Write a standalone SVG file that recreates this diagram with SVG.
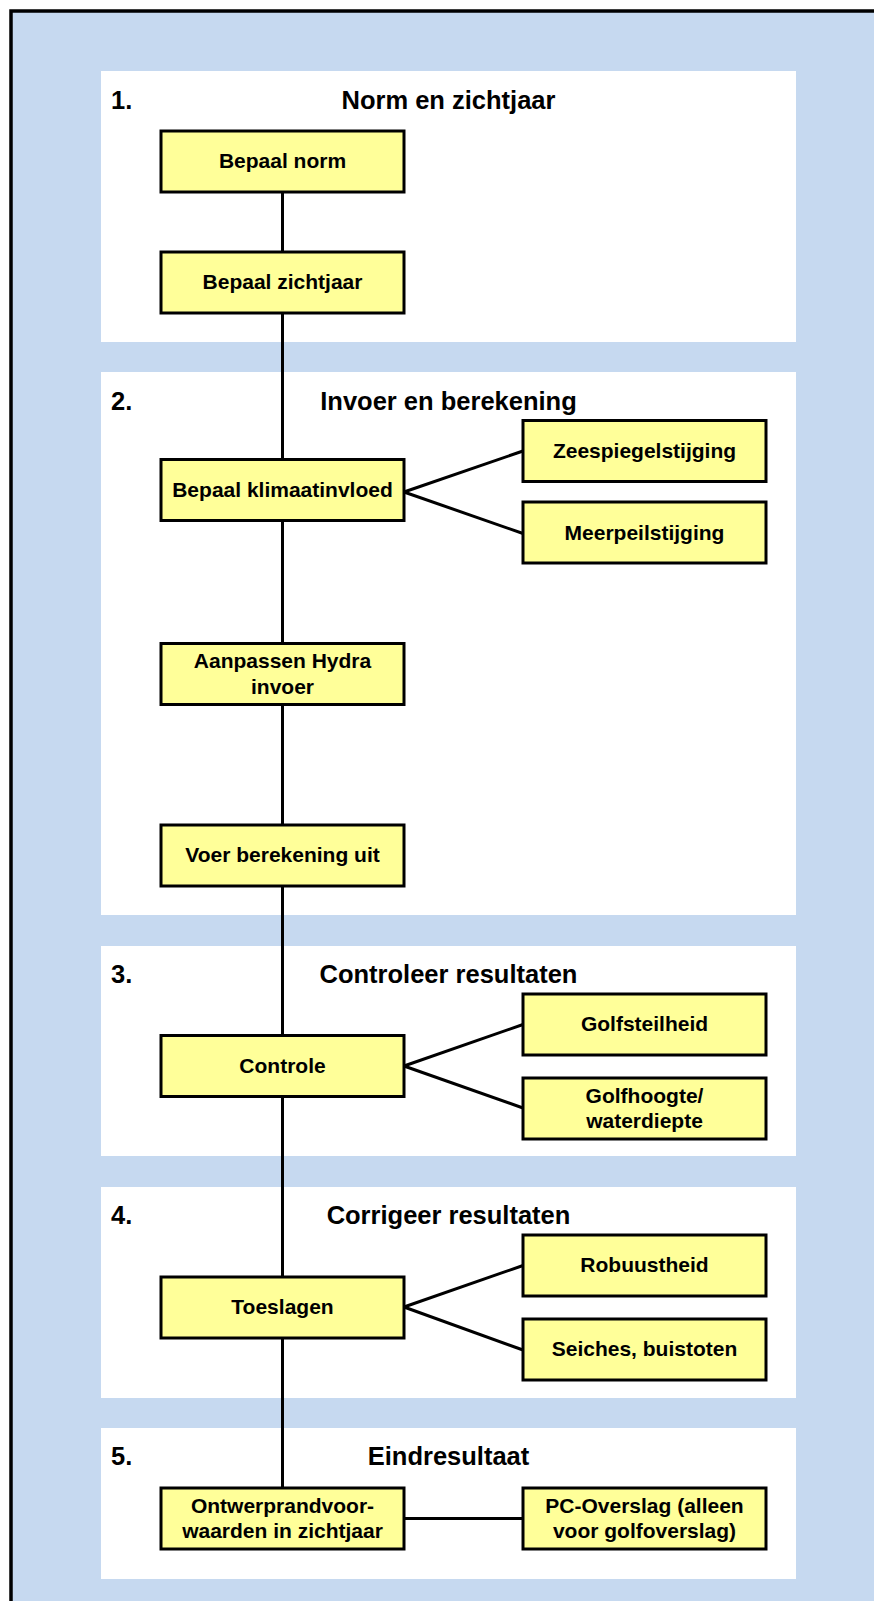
<svg xmlns="http://www.w3.org/2000/svg" width="874" height="1601" viewBox="0 0 874 1601">
<style>
.panel{fill:#ffffff}
.box{fill:#ffff99;stroke:#000000;stroke-width:3}
.t{font-family:"Liberation Sans",Arial,sans-serif;font-weight:bold;font-size:21px;fill:#000000;text-anchor:middle}
.h{font-family:"Liberation Sans",Arial,sans-serif;font-weight:bold;font-size:25.5px;fill:#000000;text-anchor:middle}
.n{font-family:"Liberation Sans",Arial,sans-serif;font-weight:bold;font-size:25.5px;fill:#000000}
.c{stroke:#000000;stroke-width:3;fill:none}
</style>
<rect x="0" y="0" width="874" height="1601" fill="#ffffff"/>
<rect x="11" y="11" width="863" height="1590" fill="#c6d9f0"/>
<path d="M11 1601 V11 H874" fill="none" stroke="#000000" stroke-width="3.5"/>
<g id="panels">
<rect class="panel" x="101" y="71" width="695" height="271"/>
<rect class="panel" x="101" y="372" width="695" height="543"/>
<rect class="panel" x="101" y="946" width="695" height="210"/>
<rect class="panel" x="101" y="1187" width="695" height="211"/>
<rect class="panel" x="101" y="1428" width="695" height="151"/>
</g>
<g id="headers">
<text class="n" x="111" y="109">1.</text>
<text class="h" x="448.5" y="108.5">Norm en zichtjaar</text>
<text class="n" x="111" y="410">2.</text>
<text class="h" x="448.5" y="410">Invoer en berekening</text>
<text class="n" x="111" y="983">3.</text>
<text class="h" x="448.5" y="983">Controleer resultaten</text>
<text class="n" x="111" y="1224">4.</text>
<text class="h" x="448.5" y="1224">Corrigeer resultaten</text>
<text class="n" x="111" y="1465">5.</text>
<text class="h" x="448.5" y="1465">Eindresultaat</text>
</g>
<g id="connectors">
<line class="c" x1="282.5" y1="192" x2="282.5" y2="252"/>
<line class="c" x1="282.5" y1="313" x2="282.5" y2="459.5"/>
<line class="c" x1="282.5" y1="520.5" x2="282.5" y2="643.5"/>
<line class="c" x1="282.5" y1="704.5" x2="282.5" y2="825"/>
<line class="c" x1="282.5" y1="886" x2="282.5" y2="1035.5"/>
<line class="c" x1="282.5" y1="1096.5" x2="282.5" y2="1277"/>
<line class="c" x1="282.5" y1="1338" x2="282.5" y2="1488"/>
<line class="c" x1="404" y1="492" x2="523" y2="451"/>
<line class="c" x1="404" y1="492" x2="523" y2="533.5"/>
<line class="c" x1="404" y1="1066" x2="523" y2="1024.5"/>
<line class="c" x1="404" y1="1066" x2="523" y2="1108"/>
<line class="c" x1="404" y1="1307" x2="523" y2="1265.5"/>
<line class="c" x1="404" y1="1307" x2="523" y2="1350"/>
<line class="c" x1="404" y1="1518.5" x2="523" y2="1518.5"/>
</g>
<g id="n-bepaal-norm"><rect class="box" x="161" y="131" width="243" height="61"/><text class="t" x="282.5" y="168">Bepaal norm</text></g>
<g id="n-bepaal-zichtjaar"><rect class="box" x="161" y="252" width="243" height="61"/><text class="t" x="282.5" y="289">Bepaal zichtjaar</text></g>
<g id="n-klimaat"><rect class="box" x="161" y="459.5" width="243" height="61"/><text class="t" x="282.5" y="497">Bepaal klimaatinvloed</text></g>
<g id="n-zeespiegel"><rect class="box" x="523" y="420.5" width="243" height="61"/><text class="t" x="644.5" y="458">Zeespiegelstijging</text></g>
<g id="n-meerpeil"><rect class="box" x="523" y="502" width="243" height="61"/><text class="t" x="644.5" y="539.5">Meerpeilstijging</text></g>
<g id="n-aanpassen"><rect class="box" x="161" y="643.5" width="243" height="61"/><text class="t" x="282.5" y="668">Aanpassen Hydra</text><text class="t" x="282.5" y="693.5">invoer</text></g>
<g id="n-voer"><rect class="box" x="161" y="825" width="243" height="61"/><text class="t" x="282.5" y="861.5">Voer berekening uit</text></g>
<g id="n-controle"><rect class="box" x="161" y="1035.5" width="243" height="61"/><text class="t" x="282.5" y="1073">Controle</text></g>
<g id="n-golfsteilheid"><rect class="box" x="523" y="994" width="243" height="61"/><text class="t" x="644.5" y="1031">Golfsteilheid</text></g>
<g id="n-golfhoogte"><rect class="box" x="523" y="1078" width="243" height="61"/><text class="t" x="644.5" y="1103">Golfhoogte/</text><text class="t" x="644.5" y="1127.5">waterdiepte</text></g>
<g id="n-toeslagen"><rect class="box" x="161" y="1277" width="243" height="61"/><text class="t" x="282.5" y="1314">Toeslagen</text></g>
<g id="n-robuustheid"><rect class="box" x="523" y="1235" width="243" height="61"/><text class="t" x="644.5" y="1272">Robuustheid</text></g>
<g id="n-seiches"><rect class="box" x="523" y="1319" width="243" height="61"/><text class="t" x="644.5" y="1356">Seiches, buistoten</text></g>
<g id="n-ontwerp"><rect class="box" x="161" y="1488" width="243" height="61"/><text class="t" x="282.5" y="1512.5">Ontwerprandvoor-</text><text class="t" x="282.5" y="1538">waarden in zichtjaar</text></g>
<g id="n-pcoverslag"><rect class="box" x="523" y="1488" width="243" height="61"/><text class="t" x="644.5" y="1512.5">PC-Overslag (alleen</text><text class="t" x="644.5" y="1538">voor golfoverslag)</text></g>
</svg>
